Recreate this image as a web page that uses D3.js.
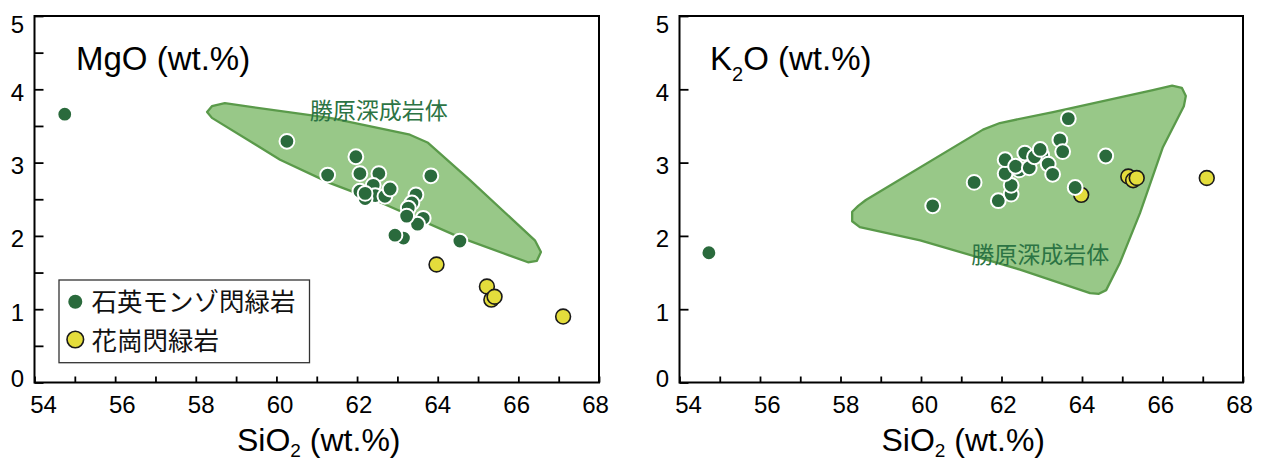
<!DOCTYPE html>
<html><head><meta charset="utf-8">
<script src="https://cdn.jsdelivr.net/npm/d3@7"></script>
<style>body{margin:0;background:#fff}svg{display:block}</style>
</head><body>
<svg id="c" width="1261" height="462"></svg>
<script>
// ---------- data ----------
const xTickValues = d3.range(54, 69, 1);
const xLabelValues = [54, 56, 58, 60, 62, 64, 66, 68];
const yTickValuesMinor = d3.range(0, 5.01, 0.5);
const yTickValuesMajor = [0, 1, 2, 3, 4, 5];

// MgO panel: [SiO2, MgO]
const mgoMonzo = [[54.75,3.66],[60.26,3.29],[61.27,2.83],[61.97,3.08],[62.07,2.85],[62.54,2.85],[63.83,2.82],
  [62.40,2.69],[62.45,2.55],[62.20,2.51],[62.69,2.54],[62.82,2.64],[62.07,2.61],[62.20,2.58],
  [63.46,2.56],[63.36,2.45],[63.27,2.38],[63.64,2.24],[63.50,2.16],[63.23,2.27],
  [63.15,1.97],[62.94,2.01],[64.55,1.93]];
const mgoGrano = [[63.97,1.61],[65.22,1.31],[65.33,1.13],[65.41,1.17],[67.11,0.90]];
const mgoField = [[58.28,3.69],[58.40,3.77],[58.72,3.81],[61.33,3.61],[63.31,3.38],[63.76,3.27],[64.80,2.76],
  [66.41,1.94],[66.56,1.78],[66.46,1.66],[66.24,1.64],[64.55,1.98],[62.57,2.46],[61.33,2.72],[60.09,3.04],[58.40,3.61]];

// K2O panel: [SiO2, K2O]
const k2oMonzo = [[54.73,1.77],[60.29,2.41],[61.32,2.73],[61.92,2.48],[62.24,2.57],[62.24,2.69],[62.09,2.85],
  [62.09,3.04],[62.44,2.90],[62.35,2.95],[62.69,2.93],[62.58,3.13],[63.00,3.10],[62.82,3.08],[62.96,3.18],
  [63.16,2.98],[63.27,2.84],[63.45,3.31],[63.52,3.15],[63.66,3.60],[64.59,3.09],[63.83,2.66]];
const k2oGrano = [[63.98,2.56],[65.15,2.81],[65.27,2.76],[65.36,2.79],[67.10,2.79]];
const k2oField = [[58.29,2.33],[58.44,2.41],[58.63,2.49],[61.54,3.45],[61.96,3.54],[63.28,3.69],[65.76,3.99],
  [66.24,4.05],[66.48,4.02],[66.58,3.91],[66.53,3.77],[66.01,3.21],[65.44,2.31],[64.94,1.63],[64.60,1.26],
  [64.42,1.21],[64.20,1.22],[62.46,1.54],[59.98,1.94],[58.48,2.12],[58.29,2.20]];

const fieldName = "勝原深成岩体";
const legendNames = ["石英モンゾ閃緑岩", "花崗閃緑岩"];

// ---------- style ----------
const C = {dark:"#2a6a3c", fill:"#98c888", edge:"#5a9a4a", label:"#2c7444", yellow:"#e4dd3c"};
const svg = d3.select("#c");
const plotTop = 16, plotBottom = 382.5;

const panels = [
  {left:34.5, right:599, monzo:mgoMonzo, grano:mgoGrano, field:mgoField, minor:true,
   title:"MgO", sub:null, titleX:41.5, label:[62.54,3.70]},
  {left:679.5, right:1243, monzo:k2oMonzo, grano:k2oGrano, field:k2oField, minor:false,
   title:"K", sub:"2", titleX:30.5, label:[62.96,1.74]}
];

panels.forEach((p, i) => {
  const x = d3.scaleLinear().domain([54, 68]).range([p.left, p.right]);
  const y = d3.scaleLinear().domain([0, 5]).range([plotBottom, plotTop]);
  const g = svg.append("g");
  const labelOffset = d3.scaleLinear().domain([54, 68]).range([8.5, -4]);

  // field polygon
  g.append("path").datum(p.field)
    .attr("d", d3.line().x(d => x(d[0])).y(d => y(d[1])).curve(d3.curveLinearClosed))
    .attr("fill", C.fill).attr("stroke", C.edge).attr("stroke-width", 2.3).attr("stroke-linejoin", "round");

  g.append("text").attr("x", x(p.label[0])).attr("y", y(p.label[1]) + 8)
    .attr("text-anchor", "middle").attr("font-family", "Noto Sans CJK JP").attr("font-size", 23)
    .attr("fill", C.label).text(fieldName);

  // x axis
  const xa = g.append("g").attr("transform", `translate(0,${plotBottom})`)
    .call(d3.axisBottom(x).tickValues(xTickValues).tickSize(-6).tickSizeOuter(0).tickPadding(13.5)
      .tickFormat(d => xLabelValues.includes(d) ? d : ""));
  xa.select(".domain").remove();
  xa.selectAll("line").attr("stroke", "#000").attr("stroke-width", 1.8);
  xa.selectAll("text").attr("x", d => labelOffset(d)).attr("font-family", "Liberation Sans, Arial")
    .attr("font-size", 24).attr("fill", "#000");

  // y axis
  const ya = g.append("g").attr("transform", `translate(${p.left},0)`)
    .call(d3.axisLeft(y).tickValues(p.minor ? yTickValuesMinor : yTickValuesMajor).tickSize(-9).tickSizeOuter(0)
      .tickPadding(10.5).tickFormat(d => Number.isInteger(d) ? d : ""));
  ya.select(".domain").remove();
  ya.selectAll("line").attr("stroke", "#000").attr("stroke-width", 1.8);
  ya.selectAll("text").attr("font-family", "Liberation Sans, Arial").attr("font-size", 24).attr("fill", "#000")
    .attr("y", d => d === 5 ? 8.8 : d === 0 ? -3.2 : 3.3);

  // frame
  g.append("rect").attr("x", p.left).attr("y", plotTop).attr("width", p.right - p.left).attr("height", plotBottom - plotTop)
    .attr("fill", "none").attr("stroke", "#000").attr("stroke-width", 2);

  // points
  g.append("g").selectAll("circle").data(p.grano).join("circle")
    .attr("cx", d => x(d[0])).attr("cy", d => y(d[1])).attr("r", 7.4)
    .attr("fill", C.yellow).attr("stroke", "#1a1a1a").attr("stroke-width", 1.6);
  g.append("g").selectAll("circle").data(p.monzo).join("circle")
    .attr("cx", d => x(d[0])).attr("cy", d => y(d[1])).attr("r", 7.4)
    .attr("fill", C.dark).attr("stroke", "#fff").attr("stroke-width", 2);

  // panel title
  const t = g.append("text").attr("x", p.left + p.titleX).attr("y", 70)
    .attr("font-family", "Liberation Sans, Arial").attr("font-size", 33).attr("fill", "#000");
  t.append("tspan").text(p.title);
  if (p.sub) {
    t.append("tspan").attr("font-size", 20).attr("dy", 11).text(p.sub);
    t.append("tspan").attr("dy", -11).text("O (wt.%)");
  } else {
    t.append("tspan").text(" (wt.%)");
  }

  // x axis title
  const xt = g.append("text").attr("x", (p.left + p.right) / 2 + 2).attr("y", 451).attr("text-anchor", "middle")
    .attr("font-family", "Liberation Sans, Arial").attr("font-size", 32).attr("fill", "#000");
  xt.append("tspan").text("SiO");
  xt.append("tspan").attr("font-size", 19).attr("dy", 6).text("2");
  xt.append("tspan").attr("dy", -6).text(" (wt.%)");

  // legend (left panel only)
  if (i === 0) {
    const lg = g.append("g");
    lg.append("rect").attr("x", 59).attr("y", 280).attr("width", 250.5).attr("height", 82.7)
      .attr("fill", "#fff").attr("stroke", "#333").attr("stroke-width", 1.3);
    lg.append("circle").attr("cx", 75.3).attr("cy", 301.7).attr("r", 7).attr("fill", C.dark);
    lg.append("circle").attr("cx", 75.3).attr("cy", 339.5).attr("r", 8.3)
      .attr("fill", C.yellow).attr("stroke", "#1a1a1a").attr("stroke-width", 1.6);
    lg.selectAll("text.lt").data(legendNames).join("text").attr("class", "lt")
      .attr("x", 91.5).attr("y", (d, k) => 311 + k * 38.5)
      .attr("font-family", "Noto Sans CJK JP").attr("font-size", 25.5).attr("fill", "#111").text(d => d);
  }
});
</script>
</body></html>
